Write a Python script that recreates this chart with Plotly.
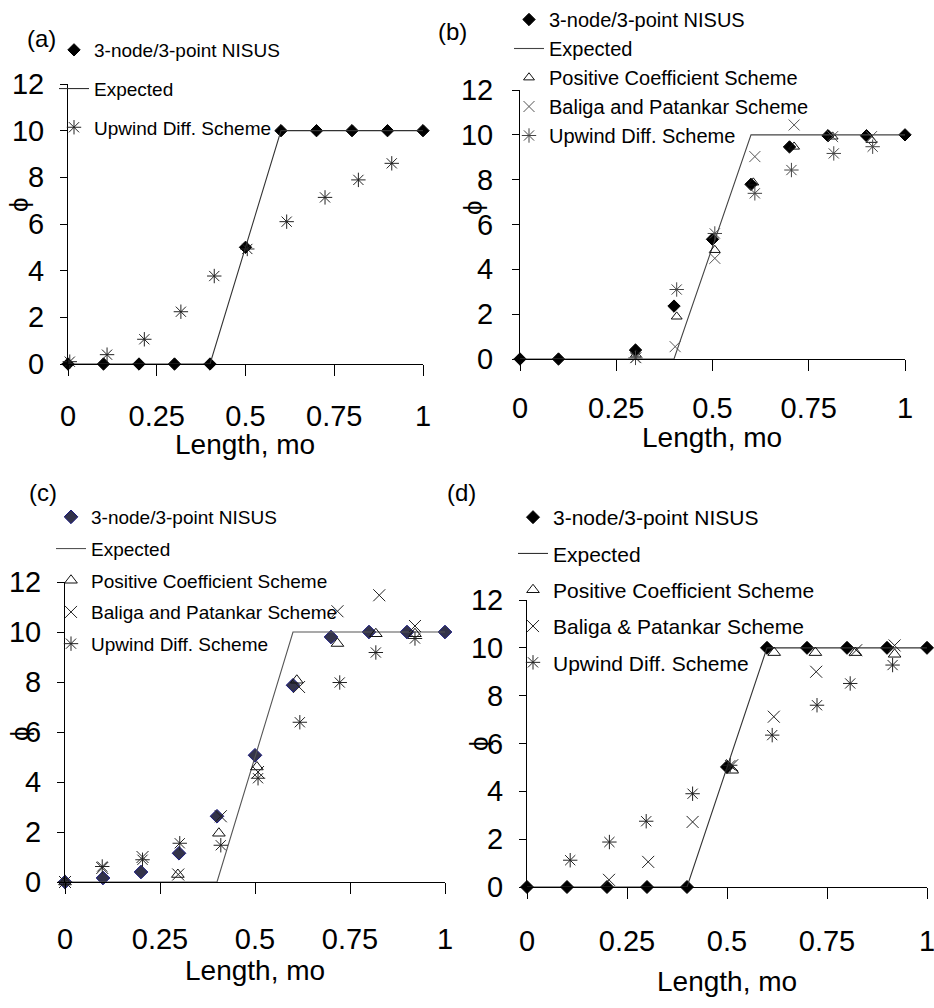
import plotly.graph_objects as go

W, H = 934, 1008
FONT = "Liberation Sans, Arial, sans-serif"

# ---------------- data ----------------
x_nisus = [0, 0.1, 0.2, 0.3, 0.4, 0.5, 0.6, 0.7, 0.8, 0.9, 1.0]
x_exp = [0, 0.4, 0.6, 1.0]
y_exp = [0, 0, 10, 10]

# (a)
a_nisus_y = [0, 0, 0, 0, 0, 5, 10, 10, 10, 10, 10]
a_up_x = [0.005, 0.11, 0.215, 0.318, 0.412, 0.505, 0.616, 0.724, 0.818, 0.912]
a_up_y = [0.1, 0.4, 1.06, 2.24, 3.77, 4.93, 6.1, 7.14, 7.89, 8.6]

# (b)
b_nisus_x = [0, 0.1, 0.3, 0.4, 0.5, 0.6, 0.7, 0.8, 0.9, 1.0]
b_nisus_y = [0, 0, 0.4, 2.36, 5.34, 7.79, 9.46, 9.96, 9.96, 10]
b_pos_x = [0.301, 0.407, 0.506, 0.606, 0.712, 0.812, 0.913]
b_pos_y = [0.2, 1.89, 4.86, 7.87, 9.47, 9.92, 9.77]
b_bal_x = [0.301, 0.403, 0.506, 0.61, 0.712, 0.812, 0.913]
b_bal_y = [0.06, 0.55, 4.49, 9.03, 10.44, 9.92, 9.92]
b_up_x = [0.3, 0.407, 0.506, 0.61, 0.705, 0.815, 0.916]
b_up_y = [0.05, 3.1, 5.6, 7.39, 8.43, 9.17, 9.47]

# (c)
c_nisus_y = [0, 0.16, 0.4, 1.15, 2.63, 5.07, 7.87, 9.8, 10, 10, 10]
c_pos_x = [0, 0.098, 0.297, 0.405, 0.505, 0.61, 0.717, 0.818, 0.921]
c_pos_y = [0, -0.1, 0.3, 1.95, 4.6, 8.07, 9.54, 9.93, 9.93]
c_bal_x = [0, 0.098, 0.204, 0.298, 0.41, 0.508, 0.616, 0.717, 0.827, 0.921]
c_bal_y = [0, 0.56, 1.0, 0.3, 2.63, 4.4, 7.8, 10.83, 11.47, 10.24]
c_up_x = [0, 0.098, 0.204, 0.302, 0.41, 0.508, 0.618, 0.723, 0.818, 0.921]
c_up_y = [0, 0.62, 0.89, 1.55, 1.47, 4.15, 6.39, 7.98, 9.18, 9.74]

# (d)
d_nisus_y = [0, 0, 0, 0, 0, 5.02, 10, 10, 10, 10, 10]
d_pos_x = [0.513, 0.618, 0.721, 0.821, 0.919]
d_pos_y = [4.88, 9.8, 9.8, 9.8, 9.73]
d_bal_x = [0.205, 0.303, 0.414, 0.513, 0.617, 0.723, 0.823, 0.919]
d_bal_y = [0.3, 1.05, 2.72, 5.09, 7.12, 9.0, 9.9, 10.1]
d_up_x = [0.108, 0.206, 0.298, 0.414, 0.508, 0.613, 0.725, 0.808, 0.914]
d_up_y = [1.12, 1.88, 2.75, 3.9, 5.09, 6.35, 7.6, 8.51, 9.28]

x_ticks = [0, 0.25, 0.5, 0.75, 1]
x_tick_text = ["0", "0.25", "0.5", "0.75", "1"]
y_ticks = [0, 2, 4, 6, 8, 10, 12]

NAME_NISUS = "3-node/3-point NISUS"
NAME_EXP = "Expected"
NAME_POS = "Positive Coefficient Scheme"
NAME_BAL = "Baliga and Patankar Scheme"
NAME_BAL_D = "Baliga & Patankar Scheme"
NAME_UP = "Upwind Diff. Scheme"


def px(x):
    return x / W


def py(y):
    return 1 - y / H


fig = go.Figure()


def add(ax, legend, name, x, y, kind, group, color="black", fill=None, size=None):
    xa = "x" if ax == 1 else f"x{ax}"
    ya = "y" if ax == 1 else f"y{ax}"
    common = dict(xaxis=xa, yaxis=ya, name=name, legend=legend,
                  legendgroup=f"{legend}_{group}", cliponaxis=False)
    if kind == "diamond":
        fig.add_trace(go.Scatter(x=x, y=y, mode="markers",
                                 marker=dict(symbol="diamond", size=size or 9.5,
                                             color=fill or color,
                                             line=dict(color=color, width=1)),
                                 **common))
    elif kind == "line":
        fig.add_trace(go.Scatter(x=x, y=y, mode="lines",
                                 line=dict(color=color, width=1.1), **common))
    elif kind == "tri":
        fig.add_trace(go.Scatter(x=x, y=y, mode="markers",
                                 marker=dict(symbol="triangle-up-open", size=size or 9.5,
                                             color=color,
                                             line=dict(color=color, width=1)),
                                 **common))
    elif kind == "x":
        fig.add_trace(go.Scatter(x=x, y=y, mode="markers",
                                 marker=dict(symbol="x-thin-open", size=size or 11,
                                             color=color,
                                             line=dict(color=color, width=1)),
                                 **common))
    elif kind == "ast":
        fig.add_trace(go.Scatter(x=x, y=y, mode="markers",
                                 marker=dict(symbol="asterisk-open", size=size or 12,
                                             color=color,
                                             line=dict(color=color, width=1)),
                                 **common))


# panel (a)
add(1, "legend", NAME_NISUS, x_nisus, a_nisus_y, "diamond", 1)
add(1, "legend", NAME_EXP, x_exp, y_exp, "line", 2, color="#333")
add(1, "legend", NAME_UP, a_up_x, a_up_y, "ast", 3, color="#222")

# panel (b)
add(2, "legend2", NAME_NISUS, b_nisus_x, b_nisus_y, "diamond", 1)
add(2, "legend2", NAME_EXP, x_exp, y_exp, "line", 2, color="#444")
add(2, "legend2", NAME_POS, b_pos_x, b_pos_y, "tri", 3, color="#111")
add(2, "legend2", NAME_BAL, b_bal_x, b_bal_y, "x", 4, color="#555")
add(2, "legend2", NAME_UP, b_up_x, b_up_y, "ast", 5, color="#444")

# panel (c)
add(3, "legend3", NAME_NISUS, x_nisus, c_nisus_y, "diamond", 1, color="#1a1a80", fill="#33334a", size=10.5)
add(3, "legend3", NAME_EXP, x_exp, y_exp, "line", 2, color="#555")
add(3, "legend3", NAME_POS, c_pos_x, c_pos_y, "tri", 3, color="#111", size=11)
add(3, "legend3", NAME_BAL, c_bal_x, c_bal_y, "x", 4, color="#222", size=12)
add(3, "legend3", NAME_UP, c_up_x, c_up_y, "ast", 5, color="#222")

# panel (d)
add(4, "legend4", NAME_NISUS, x_nisus, d_nisus_y, "diamond", 1, size=10)
add(4, "legend4", NAME_EXP, x_exp, y_exp, "line", 2, color="#333")
add(4, "legend4", NAME_POS, d_pos_x, d_pos_y, "tri", 3, color="#111", size=11)
add(4, "legend4", NAME_BAL_D, d_bal_x, d_bal_y, "x", 4, color="#222", size=12)
add(4, "legend4", NAME_UP, d_up_x, d_up_y, "ast", 5, color="#222")

# axes: pixel boxes (left, right, top, bottom), x-label standoff, y-label standoff
boxes = {
    1: (68, 423, 84, 364, 15, 10),
    2: (520, 905, 90, 359, 12, 13),
    3: (65, 445, 582, 882, 20, 10),
    4: (527, 927, 600, 887, 17, 10),
}
layout = {}
for i, (l, r, t, b, sx, sy) in boxes.items():
    xk = "xaxis" if i == 1 else f"xaxis{i}"
    yk = "yaxis" if i == 1 else f"yaxis{i}"
    ya = "y" if i == 1 else f"y{i}"
    xa = "x" if i == 1 else f"x{i}"
    layout[xk] = dict(domain=[px(l), px(r)], anchor=ya, range=[0, 1],
                      automargin=False, ticklabeloverflow="allow",
                      showline=True, linecolor="black", linewidth=1,
                      showgrid=False, zeroline=False,
                      ticks="outside", ticklen=11, tickcolor="black",
                      tickvals=x_ticks, ticktext=x_tick_text,
                      ticklabelstandoff=sx,
                      tickfont=dict(family=FONT, size=29, color="black"))
    layout[yk] = dict(domain=[py(b), py(t)], anchor=xa, range=[0, 12],
                      automargin=False, ticklabeloverflow="allow",
                      showline=True, linecolor="black", linewidth=1,
                      showgrid=False, zeroline=False,
                      ticks="outside", ticklen=7, tickcolor="black",
                      tickvals=y_ticks, ticklabelstandoff=sy,
                      tickfont=dict(family=FONT, size=29, color="black"))


def leg(x, y, size, gap):
    return dict(x=px(x), y=py(y), xanchor="left", yanchor="top",
                bgcolor="rgba(0,0,0,0)", borderwidth=0,
                traceorder="grouped", tracegroupgap=gap,
                font=dict(family=FONT, size=size, color="black"))


layout["legend"] = leg(54, 31, 19, 11)
layout["legend2"] = leg(509, 0, 20, 0)
layout["legend3"] = leg(51, 498, 19, 4)
layout["legend4"] = leg(513, 497, 21, 6)

ann = []
for (x, y, t) in [(41, 39, "(a)"), (452, 31, "(b)"), (43, 492, "(c)"), (461, 492, "(d)")]:
    ann.append(dict(x=px(x), y=py(y), xref="paper", yref="paper", text=t,
                    showarrow=False, xanchor="center", yanchor="middle",
                    font=dict(family=FONT, size=24, color="black")))
for (x, y) in [(19, 205), (473, 208), (20, 734), (479, 744)]:
    ann.append(dict(x=px(x), y=py(y), xref="paper", yref="paper", text="ϕ",
                    textangle=-90, showarrow=False, xanchor="center", yanchor="middle",
                    font=dict(family=FONT, size=26, color="black")))
for (x, y) in [(245, 444), (712, 437), (255, 970), (727, 981)]:
    ann.append(dict(x=px(x), y=py(y), xref="paper", yref="paper", text="Length, mo",
                    showarrow=False, xanchor="center", yanchor="middle",
                    font=dict(family=FONT, size=28, color="black")))

fig.update_layout(width=W, height=H, margin=dict(l=0, r=0, t=0, b=0),
                  paper_bgcolor="white", plot_bgcolor="white",
                  annotations=ann, **layout)

fig.write_html("out.html")
